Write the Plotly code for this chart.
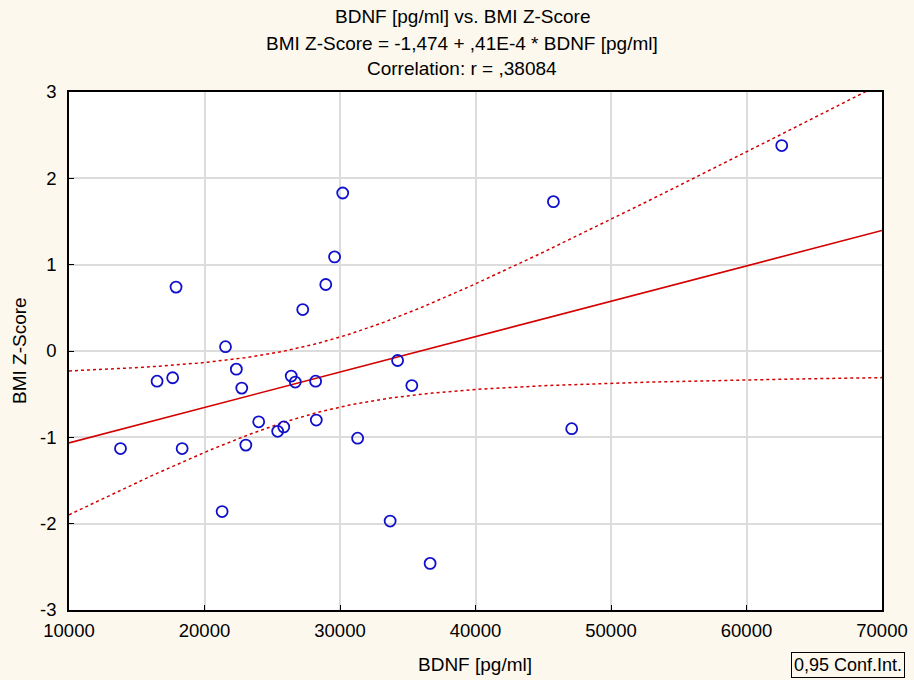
import numpy as np
import plotly.graph_objects as go

bdnf = [13800, 16500, 17650, 17900, 18350, 21300, 21550, 22350, 22750, 23050,
        24000, 25400, 25850, 26400, 26700, 27250, 28200, 28250, 28950, 29600,
        30200, 31300, 33700, 34250, 35300, 36650, 45750, 47100, 62600]
bmi_z = [-1.13, -0.35, -0.31, 0.74, -1.13, -1.86, 0.05, -0.21, -0.43, -1.09,
         -0.82, -0.93, -0.88, -0.29, -0.36, 0.48, -0.35, -0.80, 0.77, 1.09,
         1.83, -1.01, -1.97, -0.11, -0.40, -2.46, 1.73, -0.90, 2.38]
x_ticks = [10000, 20000, 30000, 40000, 50000, 60000, 70000]
y_ticks = [-3, -2, -1, 0, 1, 2, 3]

intercept = -1.474
slope = 0.41e-4

x = np.array(bdnf, float)
y = np.array(bmi_z, float)
n = len(x)
b1, b0 = np.polyfit(x, y, 1)
resid = y - (b0 + b1 * x)
s = np.sqrt(np.sum(resid ** 2) / (n - 2))
sxx = np.sum((x - x.mean()) ** 2)
tcrit = 2.0518  # t(0.975, 27)

xs = np.linspace(10000, 70000, 200)
fit = intercept + slope * xs
half = tcrit * s * np.sqrt(1 / n + (xs - x.mean()) ** 2 / sxx)
upper = fit + half
lower = fit - half

red = "#D40000"
blue = "#1010CC"
fig = go.Figure()
fig.add_trace(go.Scatter(x=xs, y=upper, mode="lines",
                         line=dict(color=red, width=1.5, dash="dot"), hoverinfo="skip"))
fig.add_trace(go.Scatter(x=xs, y=lower, mode="lines",
                         line=dict(color=red, width=1.5, dash="dot"), hoverinfo="skip"))
fig.add_trace(go.Scatter(x=xs, y=fit, mode="lines",
                         line=dict(color=red, width=1.6)))
fig.add_trace(go.Scatter(x=bdnf, y=bmi_z, mode="markers",
                         marker=dict(symbol="circle-open", size=11, color=blue,
                                     line=dict(width=1.8, color=blue))))

font_family = "Liberation Sans, Arial, sans-serif"
bg = "#FCF8EE"
fig.update_layout(
    width=914, height=680,
    margin=dict(l=69, r=32, t=92, b=70),
    paper_bgcolor=bg,
    plot_bgcolor="white",
    showlegend=False,
    font=dict(family=font_family, color="black"),
    xaxis=dict(range=[10000, 70000], tickvals=x_ticks, automargin=False,
               ticktext=[str(v) for v in x_ticks],
               showgrid=True, gridcolor="#DCDCDC", gridwidth=1.5, zeroline=False,
               showline=True, linecolor="black", linewidth=1.5, mirror=True,
               ticks="inside", ticklen=5, tickcolor="black",
               tickfont=dict(size=18.5, family=font_family), ticklabelstandoff=3),
    yaxis=dict(range=[-3, 3], tickvals=y_ticks, automargin=False,
               ticktext=[str(v) for v in y_ticks],
               showgrid=True, gridcolor="#DCDCDC", gridwidth=1.5, zeroline=False,
               showline=True, linecolor="black", linewidth=1.5, mirror=True,
               ticks="inside", ticklen=5, tickcolor="black",
               tickfont=dict(size=18.5, family=font_family), ticklabelstandoff=7),
)

titles = [("BDNF [pg/ml] vs. BMI Z-Score", 16),
          ("BMI Z-Score = -1,474 + ,41E-4 * BDNF [pg/ml]", 43),
          ("Correlation: r = ,38084", 69)]
for txt, ypx in titles:
    fig.add_annotation(text=txt, xref="paper", yref="paper",
                       x=(462 - 69) / 813, y=(610 - ypx) / 518,
                       showarrow=False, xanchor="center", yanchor="middle",
                       font=dict(size=19, family=font_family))

fig.add_annotation(text="BDNF [pg/ml]", xref="paper", yref="paper",
                   x=(475 - 69) / 813, y=(610 - 664) / 518, showarrow=False,
                   xanchor="center", yanchor="middle", font=dict(size=19, family=font_family))
fig.add_annotation(text="BMI Z-Score", xref="paper", yref="paper",
                   x=(19 - 69) / 813, y=(610 - 351) / 518, showarrow=False, textangle=-90,
                   xanchor="center", yanchor="middle", font=dict(size=19, family=font_family))
fig.add_annotation(text="0,95 Conf.Int.", xref="paper", yref="paper",
                   x=(848 - 69) / 813, y=(610 - 665) / 518, showarrow=False,
                   xanchor="center", yanchor="middle", bordercolor="black", borderwidth=1,
                   bgcolor=bg, borderpad=2, font=dict(size=18, family=font_family))

fig.write_html("out.html", config={"displayModeBar": False},
               post_script="document.body.style.margin='0';document.body.style.background='%s';" % bg)
